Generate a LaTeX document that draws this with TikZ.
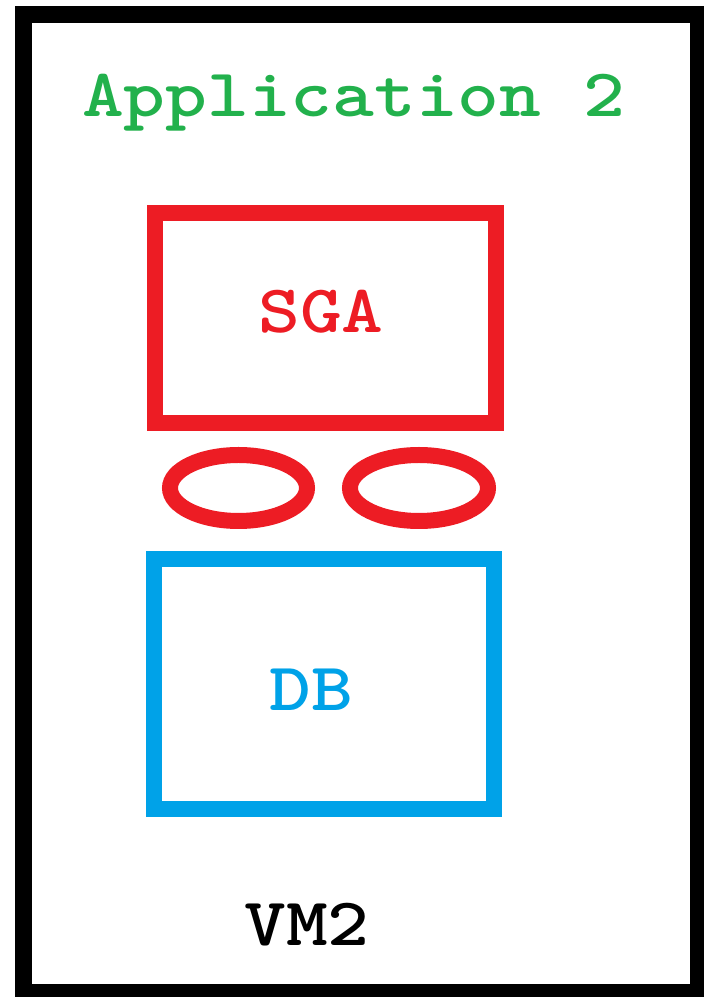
\documentclass[tikz,border=0pt]{standalone}
\usepackage{fontspec}
\usetikzlibrary{shapes.geometric}
\definecolor{pred}{HTML}{ED1C24}
\definecolor{pgreen}{HTML}{22B14C}
\definecolor{pblue}{HTML}{00A2E8}
\begin{document}
\begin{tikzpicture}[x=1pt,y=1pt,
  lbl/.style={font=\ttfamily\bfseries\fontsize{68}{68}\selectfont, inner sep=0pt, anchor=base, xscale=1.17, transform shape},
  boxa/.style={draw, line width=16pt, inner sep=0pt, rectangle},
  ring/.style={draw=pred, line width=16pt, ellipse, inner sep=0pt, minimum width=137pt, minimum height=66pt}]
\useasboundingbox (0,0) rectangle (704,997);
\fill[white] (0,0) rectangle (704,997);
\draw[line width=17pt] (23.5,982.5) rectangle (698.5,4.5);
\node[lbl, text=pgreen] (app) at (353.5,880) {Application 2};
\node[boxa, draw=pred, minimum width=340.5pt, minimum height=209.5pt] (sgabox) at (325.25,678.75) {};
\node[lbl, text=pred] (sga) at (321,664) {SGA};
\node[ring] (e1) at (238.5,509) {};
\node[ring, minimum width=138pt] (e2) at (419,509) {};
\node[boxa, draw=pblue, minimum width=340pt, minimum height=250pt] (dbbox) at (324,312.5) {};
\node[lbl, text=pblue] (db) at (311,286) {DB};
\node[lbl, text=black] (vm) at (307,51) {VM2};
\end{tikzpicture}
\end{document}
